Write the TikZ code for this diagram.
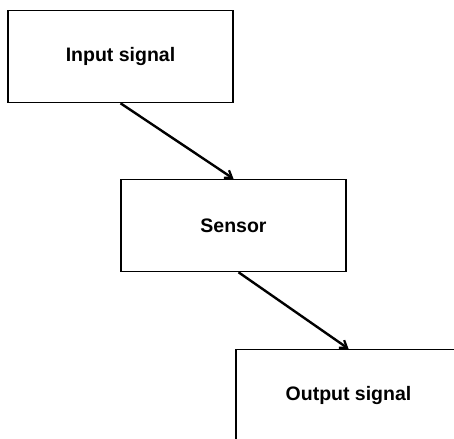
\documentclass[tikz,border=0pt]{standalone}
\usepackage{fontspec}
\setmainfont{Liberation Sans}
\usetikzlibrary{arrows.meta}

\begin{document}
\begin{tikzpicture}[
  x=1pt, y=1pt,
  block/.style={rectangle, draw, line width=1.5pt, minimum width=225pt, minimum height=92pt,
    inner sep=0pt, align=center, font=\fontsize{19.5}{23}\selectfont\bfseries},
  flow/.style={line width=2.4pt, -{Straight Barb[angle=70:8pt, line width=2.2pt]}}
]
  \useasboundingbox (0,0) rectangle (454,-438);
  \clip (0,0) rectangle (454,-438);
  \node[block] (input) at (120.5,-56.5) {Input signal};
  \node[block] (sensor) at (233.5,-225.5) {Sensor};
  \node[block] (output) at (348.5,-395.5) {Output signal};

  \draw[flow] (input.south) -- (sensor.north);
  \draw[flow] ([xshift=5pt]sensor.south) -- (output.north);
\end{tikzpicture}
\end{document}
